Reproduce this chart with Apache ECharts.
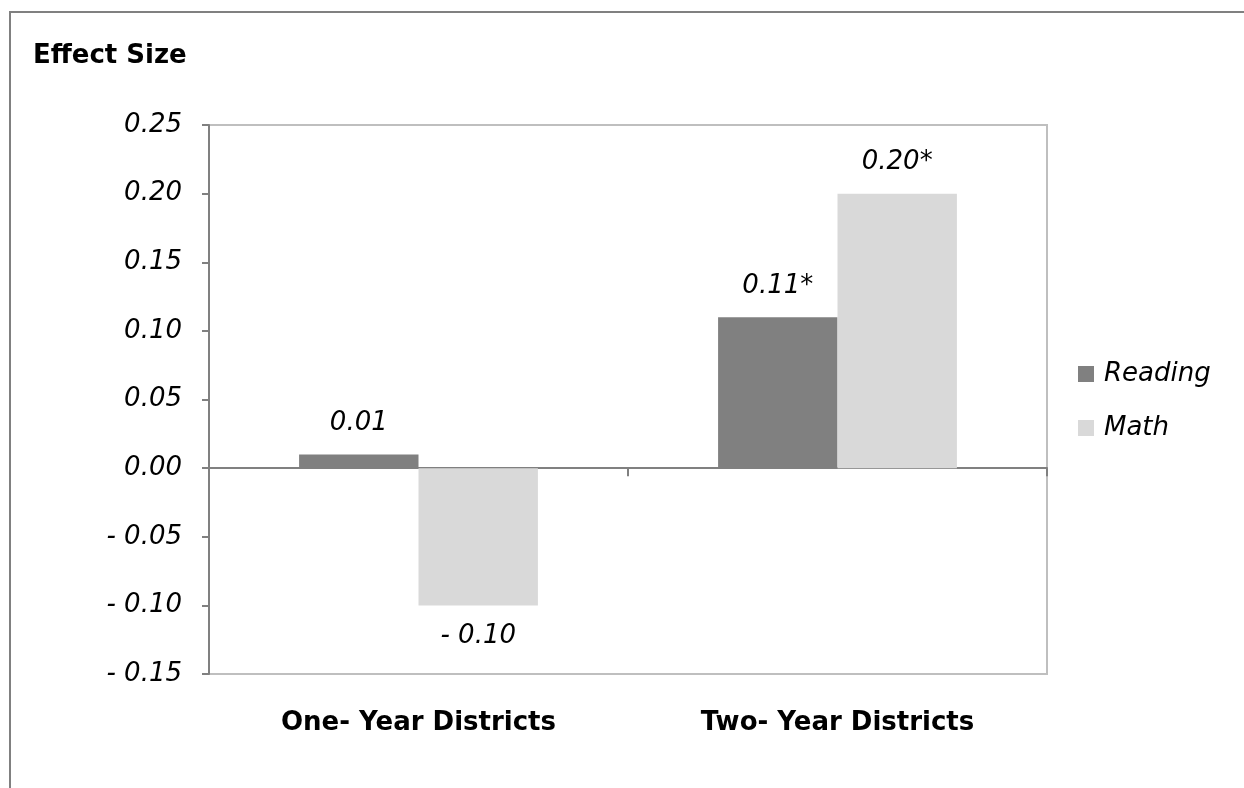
<!DOCTYPE html>
<html>
<head>
<meta charset="utf-8">
<title>Effect Size</title>
<script src="https://cdn.jsdelivr.net/npm/echarts@6/dist/echarts.min.js"></script>
<style>
  html, body { margin: 0; padding: 0; background: #ffffff; }
  #chart { width: 1244px; height: 788px; }
</style>
</head>
<body>
<div id="chart"></div>
<script>
// Effect sizes by district group
const categories = ['One- Year Districts', 'Two- Year Districts'];
const seriesNames = ['Reading', 'Math'];
const readingValues = [0.01, 0.11];
const mathValues = [-0.10, 0.20];
// statistically significant estimates get an asterisk
const readingSignificant = [false, true];
const mathSignificant = [false, true];
const yTicks = { min: -0.15, max: 0.25, step: 0.05 };

const FONT = 'DejaVu Sans';
const READING_COLOR = '#808080';
const MATH_COLOR = '#d9d9d9';

function fmt(v) {
  const s = Math.abs(v).toFixed(2);
  return v < 0 ? '- ' + s : s;
}

function barData(values, sig) {
  return values.map(function (v, i) {
    return {
      value: v,
      label: {
        position: v < 0 ? 'bottom' : 'top',
        formatter: fmt(v) + (sig[i] ? '*' : '')
      }
    };
  });
}

const labelStyle = {
  show: true,
  distance: 18,
  color: '#000',
  fontFamily: FONT,
  fontStyle: 'italic',
  fontSize: 26
};

const chart = echarts.init(document.getElementById('chart'), null, { renderer: 'canvas' });

chart.setOption({
  animation: false,
  backgroundColor: '#ffffff',
  title: {
    text: 'Effect Size',
    left: 33,
    top: 43,
    padding: 0,
    textStyle: { fontFamily: FONT, fontWeight: 'bold', fontSize: 26, color: '#000' }
  },
  legend: {
    orient: 'vertical',
    left: 1078,
    top: 361,
    padding: 0,
    itemWidth: 16,
    itemHeight: 16,
    itemGap: 28,
    icon: 'rect',
    data: seriesNames,
    textStyle: { fontFamily: FONT, fontStyle: 'italic', fontSize: 26, color: '#000', padding: [0, 0, 0, 5] }
  },
  grid: {
    left: 209,
    right: 197,
    top: 125,
    bottom: 114,
    show: true,
    borderColor: '#bfbfbf',
    borderWidth: 2,
    backgroundColor: '#ffffff'
  },
  xAxis: [
    {
      type: 'category',
      data: categories,
      position: 'bottom',
      axisLine: { show: false, onZero: false },
      axisTick: { show: false },
      axisLabel: {
        margin: 36,
        color: '#000',
        fontFamily: FONT,
        fontWeight: 'bold',
        fontSize: 26
      }
    },
    {
      // zero baseline with the category divider tick
      type: 'category',
      data: categories,
      position: 'bottom',
      axisLine: { show: true, onZero: true, lineStyle: { color: '#808080', width: 2 } },
      axisTick: { show: true, length: 8, lineStyle: { color: '#808080', width: 2 } },
      axisLabel: { show: false }
    }
  ],
  yAxis: {
    type: 'value',
    min: yTicks.min,
    max: yTicks.max,
    interval: yTicks.step,
    axisLine: { show: true, lineStyle: { color: '#808080', width: 2 } },
    axisTick: { show: true, length: 7, lineStyle: { color: '#808080', width: 2 } },
    splitLine: { show: false },
    axisLabel: {
      margin: 27,
      color: '#000',
      fontFamily: FONT,
      fontStyle: 'italic',
      fontSize: 26,
      formatter: function (v) { return fmt(v); }
    }
  },
  series: [
    {
      name: seriesNames[0],
      type: 'bar',
      xAxisIndex: 0,
      barGap: '0%',
      barCategoryGap: '43%',
      itemStyle: { color: READING_COLOR },
      label: labelStyle,
      data: barData(readingValues, readingSignificant)
    },
    {
      name: seriesNames[1],
      type: 'bar',
      xAxisIndex: 0,
      barGap: '0%',
      barCategoryGap: '43%',
      itemStyle: { color: MATH_COLOR },
      label: labelStyle,
      data: barData(mathValues, mathSignificant)
    }
  ],
  graphic: [
    {
      type: 'polyline',
      silent: true,
      shape: { points: [[10, 788], [10, 12], [1244, 12]] },
      style: { stroke: '#808080', lineWidth: 2, fill: null }
    }
  ]
});
</script>
</body>
</html>
